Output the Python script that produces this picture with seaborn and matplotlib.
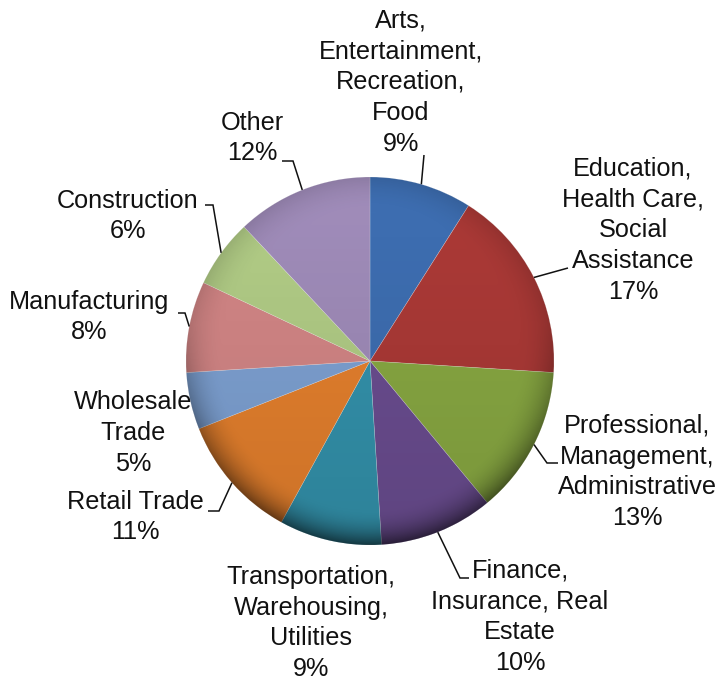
import numpy as np
import matplotlib
matplotlib.use("Agg")
import matplotlib.pyplot as plt
from matplotlib.patches import Circle
import seaborn as sns

# Share of employment by industry (percent)
categories = [
    "Arts,\nEntertainment,\nRecreation,\nFood",
    "Education,\nHealth Care,\nSocial\nAssistance",
    "Professional,\nManagement,\nAdministrative",
    "Finance,\nInsurance, Real\nEstate",
    "Transportation,\nWarehousing,\nUtilities",
    "Retail Trade",
    "Wholesale\nTrade",
    "Manufacturing",
    "Construction",
    "Other",
]
shares = [9, 17, 13, 10, 9, 11, 5, 8, 6, 12]
slice_colors = [
    "#3E6FB3", "#AD3A37", "#8AAA43", "#6C4E92", "#3494AE",
    "#E8822E", "#7FA3D5", "#D58787", "#B3CE87", "#A18DBB",
]

sns.set_theme(style="white")
plt.rcParams["font.family"] = ["Liberation Sans", "DejaVu Sans"]

W, H = 721, 682
fig = plt.figure(figsize=(W / 100, H / 100), dpi=100)
ax = fig.add_axes([0, 0, 1, 1])


def py(y):
    """Convert a top-down pixel row to the axes' y coordinate."""
    return H - y


cx, cy, r = 370.0, py(361.0), 184.0

wedges, _ = ax.pie(
    shares,
    colors=slice_colors,
    startangle=90,
    counterclock=False,
    center=(cx, cy),
    radius=r,
    frame=True,
    wedgeprops=dict(linewidth=0.4, edgecolor=(1, 1, 1, 0.35)),
)

# Soft bevel shading: darker toward the rim and toward the bottom
n = 400
u = np.linspace(-1, 1, n)
U, V = np.meshgrid(u, u)
R = np.sqrt(U ** 2 + V ** 2)
rim = np.clip((R - 0.80) / 0.20, 0, 1) ** 2
bottom = np.clip((-V + 0.2) / 1.2, 0, 1)
alpha = 0.12 * (1 - V) / 2 + 0.50 * rim * (0.25 + 0.75 * bottom)
shade = np.zeros((n, n, 4))
shade[..., 3] = np.clip(alpha, 0, 1)
img = ax.imshow(shade, extent=(cx - r, cx + r, cy - r, cy + r),
                origin="lower", interpolation="bilinear", zorder=3)
img.set_clip_path(Circle((cx, cy), r, transform=ax.transData))

# Label blocks (centre of each text block, in pixels)
label_pos = [
    (401, 82), (633, 230), (637, 472), (520, 617), (311, 623),
    (135, 517), (133, 433), (89, 317), (128, 216), (252, 138),
]
# Leader line bends / ends for labelled slices (pixels); None = no leader
leaders = [
    [(424, 155)],
    [(568, 268)],
    [(547, 463), (558, 463)],
    [(460, 578), (469, 578)],
    None,
    [(219, 511), (208, 511)],
    None,
    [(185, 313), (178, 313)],
    [(213, 205), (205, 205)],
    [(293, 161), (282, 161)],
]

for w, name, val, (lx, ly), lead in zip(wedges, categories, shares, label_pos, leaders):
    ax.text(lx, py(ly), f"{name}\n{val}%", ha="center", va="center",
            fontsize=18.2, color="#111111", linespacing=1.36, zorder=5)
    if lead is None:
        continue
    mid = np.deg2rad((w.theta1 + w.theta2) / 2)
    pts = [(cx + r * np.cos(mid), cy + r * np.sin(mid))]
    pts += [(x, py(y)) for x, y in lead]
    xs, ys = zip(*pts)
    ax.plot(xs, ys, color="#111111", lw=1.1, solid_capstyle="butt",
            solid_joinstyle="miter", zorder=4)

ax.set_xlim(0, W)
ax.set_ylim(0, H)
ax.set_aspect("equal", adjustable="box")
ax.axis("off")

fig.savefig("out.png", dpi=100, facecolor="white")
